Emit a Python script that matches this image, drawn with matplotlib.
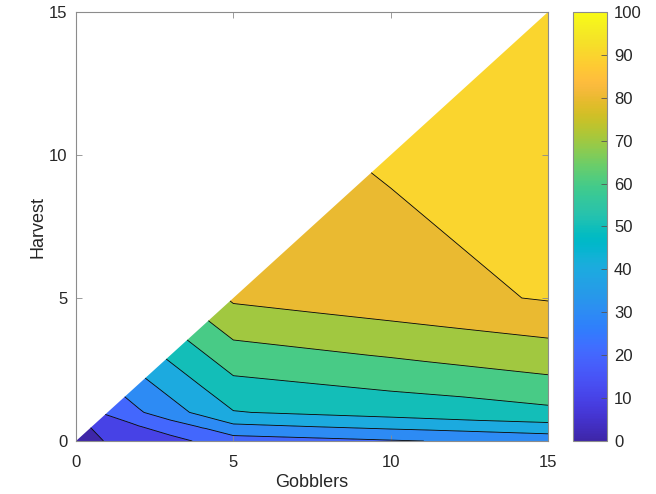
import numpy as np
import matplotlib
matplotlib.use("Agg")
import matplotlib.pyplot as plt
from matplotlib.colors import LinearSegmentedColormap, Normalize
from matplotlib.tri import Triangulation
import matplotlib.cm as cm

plt.rcParams['font.family'] = ['Liberation Sans', 'DejaVu Sans']

# ---- data ----
gobbler_nodes = [0, 0.5, 1, 2, 3, 4, 5, 10, 15]
harvest_nodes = [0, 0.5, 1, 2, 3, 4, 5, 10, 15]
nan = np.nan
# rows: harvest node, columns: gobbler node (only harvest <= gobblers)
pct = [
    [0.0, 5.5, 11.5, 14.0, 16.6, 21.5, 25.25, 29.2, 33.0],
    [nan, 10.75, 13.7, 19.5, 25.0, 30.7, 37.75, 42.1, 46.9],
    [nan, nan, 21.5, 28.9, 35.8, 42.7, 49.5, 53.9, 57.5],
    [nan, nan, nan, 37.0, 43.9, 50.8, 57.7, 62.1, 67.5],
    [nan, nan, nan, nan, 52.0, 58.9, 65.8, 70.7, 75.4],
    [nan, nan, nan, nan, nan, 67.0, 73.7, 78.5, 83.1],
    [nan, nan, nan, nan, nan, nan, 81.5, 86.0, 90.8],
    [nan, nan, nan, nan, nan, nan, nan, 91.2, 93.0],
    [nan, nan, nan, nan, nan, nan, nan, nan, 95.0],
]
levels = [0, 10, 20, 30, 40, 50, 60, 70, 80, 90, 100]
cbar_ticks = [0, 10, 20, 30, 40, 50, 60, 70, 80, 90, 100]

# ---- parula colormap ----
parula_pts = [
    [0.2422, 0.1504, 0.6603], [0.2504, 0.1650, 0.7076], [0.2578, 0.1818, 0.7511],
    [0.2647, 0.1978, 0.7952], [0.2706, 0.2147, 0.8364], [0.2751, 0.2342, 0.8710],
    [0.2783, 0.2559, 0.8991], [0.2803, 0.2782, 0.9221], [0.2813, 0.3006, 0.9414],
    [0.2810, 0.3228, 0.9579], [0.2795, 0.3447, 0.9717], [0.2760, 0.3667, 0.9829],
    [0.2699, 0.3892, 0.9906], [0.2602, 0.4123, 0.9952], [0.2440, 0.4358, 0.9988],
    [0.2206, 0.4603, 0.9973], [0.1963, 0.4847, 0.9892], [0.1834, 0.5074, 0.9798],
    [0.1786, 0.5289, 0.9682], [0.1764, 0.5499, 0.9520], [0.1687, 0.5703, 0.9359],
    [0.1540, 0.5902, 0.9218], [0.1460, 0.6091, 0.9079], [0.1380, 0.6276, 0.8973],
    [0.1248, 0.6459, 0.8883], [0.1113, 0.6635, 0.8763], [0.0952, 0.6798, 0.8598],
    [0.0689, 0.6948, 0.8394], [0.0297, 0.7082, 0.8163], [0.0036, 0.7203, 0.7917],
    [0.0067, 0.7312, 0.7660], [0.0433, 0.7411, 0.7394], [0.0964, 0.7500, 0.7120],
    [0.1408, 0.7584, 0.6842], [0.1717, 0.7670, 0.6554], [0.1938, 0.7758, 0.6251],
    [0.2161, 0.7843, 0.5923], [0.2470, 0.7918, 0.5567], [0.2906, 0.7973, 0.5188],
    [0.3406, 0.8008, 0.4789], [0.3909, 0.8029, 0.4354], [0.4456, 0.8024, 0.3909],
    [0.5044, 0.7993, 0.3480], [0.5616, 0.7942, 0.3045], [0.6174, 0.7876, 0.2612],
    [0.6720, 0.7793, 0.2227], [0.7242, 0.7698, 0.1910], [0.7738, 0.7598, 0.1646],
    [0.8203, 0.7498, 0.1535], [0.8634, 0.7406, 0.1596], [0.9035, 0.7330, 0.1774],
    [0.9393, 0.7288, 0.2100], [0.9728, 0.7298, 0.2394], [0.9956, 0.7434, 0.2371],
    [0.9970, 0.7659, 0.2199], [0.9952, 0.7893, 0.2028], [0.9892, 0.8136, 0.1885],
    [0.9786, 0.8386, 0.1766], [0.9676, 0.8639, 0.1643], [0.9610, 0.8890, 0.1537],
    [0.9597, 0.9135, 0.1423], [0.9628, 0.9373, 0.1265], [0.9691, 0.9606, 0.1064],
    [0.9769, 0.9839, 0.0805],
]
parula = LinearSegmentedColormap.from_list("parula", parula_pts, N=256)
norm = Normalize(vmin=levels[0], vmax=levels[-1])

# ---- build triangulated lower-triangle mesh (harvest <= gobblers) ----
gx = np.array(gobbler_nodes, float)
hy = np.array(harvest_nodes, float)
Z = np.array(pct, float)
n = len(gx)
idx = -np.ones((n, n), int)
px, py, pz = [], [], []
for j in range(n):          # harvest index
    for i in range(n):      # gobbler index
        if j <= i:
            idx[j, i] = len(px)
            px.append(gx[i]); py.append(hy[j]); pz.append(Z[j, i])
tris = []
for j in range(n - 1):
    for i in range(n - 1):
        bl, br = idx[j, i], idx[j, i + 1]
        tl, tr = idx[j + 1, i], idx[j + 1, i + 1]
        if i == j:
            tris.append([bl, br, tr])
        elif j < i:
            tris.append([bl, br, tl])
            tris.append([br, tr, tl])
tri = Triangulation(px, py, tris)

# ---- figure ----
fig = plt.figure(figsize=(6.56, 4.94), dpi=100)
ax = fig.add_axes([76 / 656, 1 - 441 / 494, 472 / 656, 429 / 494])

band_colors = [parula(norm(l)) for l in levels[:-1]]
ax.tricontourf(tri, pz, levels=levels, colors=band_colors, antialiased=True)
ax.tricontour(tri, pz, levels=levels[1:-1], colors='black', linewidths=0.6)

ax.set_xlim(0, 15)
ax.set_ylim(0, 15)
ax.set_xticks([0, 5, 10, 15])
ax.set_yticks([0, 5, 10, 15])
spine_c = '#8c8c8c'
for s in ax.spines.values():
    s.set_color(spine_c)
    s.set_linewidth(0.8)
ax.tick_params(direction='in', length=4, width=0.6, color=spine_c,
               labelsize=12, labelcolor='#262626', top=True, right=True, pad=6)
ax.tick_params(axis='x', pad=10)
ax.set_xlabel('Gobblers', fontsize=13, color='#262626', labelpad=3)
ax.set_ylabel('Harvest', fontsize=13, color='#262626', labelpad=2)

# colorbar
cax = fig.add_axes([573 / 656, 1 - 441 / 494, 34 / 656, 429 / 494])
sm = cm.ScalarMappable(norm=norm, cmap=parula)
cb = fig.colorbar(sm, cax=cax, ticks=cbar_ticks)
cb.outline.set_edgecolor(spine_c)
cb.outline.set_linewidth(0.8)
cax.tick_params(direction='in', length=4, width=0.6, color='#555555',
                labelsize=12, labelcolor='#262626', pad=5)

fig.savefig('out.png', dpi=100)
